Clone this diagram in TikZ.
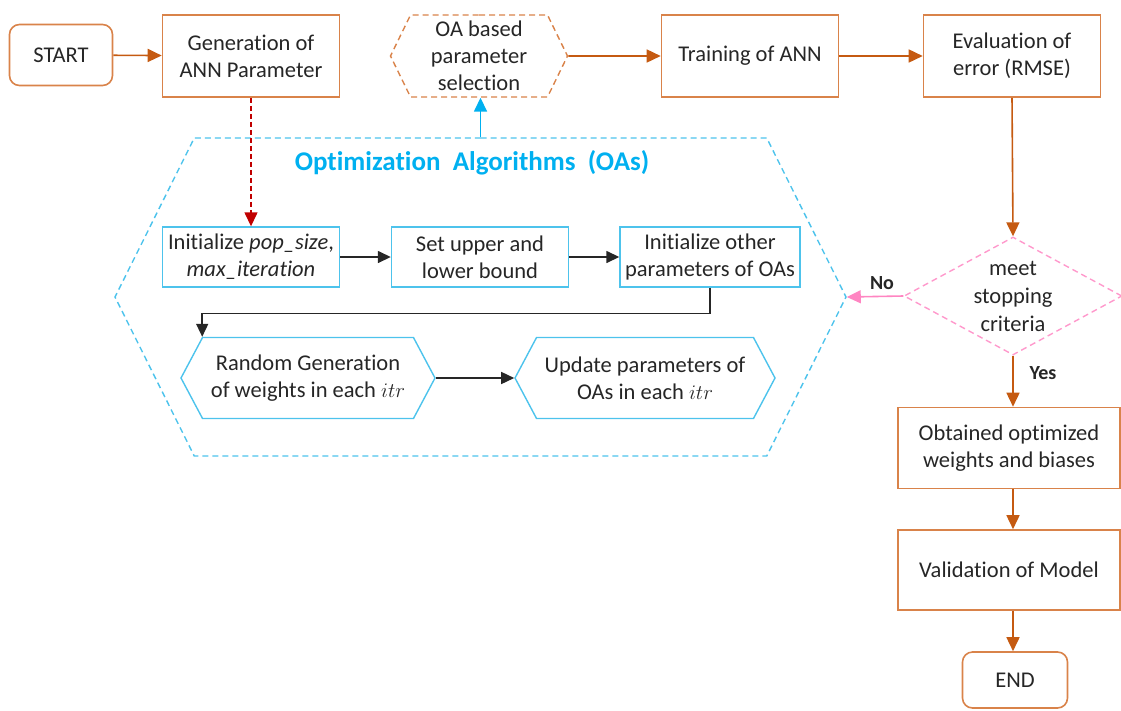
\documentclass[tikz,border=0pt]{standalone}
\usepackage{fontspec}
\setmainfont{Carlito}[Ligatures=NoCommon]
\usetikzlibrary{arrows.meta,shapes.geometric,shapes.symbols}
\definecolor{orgline}{HTML}{D9834A}
\definecolor{orgarrow}{HTML}{C55A11}
\definecolor{oablue}{HTML}{4DC3EC}
\definecolor{oatitle}{HTML}{00B0F0}
\definecolor{redarr}{HTML}{C00000}
\definecolor{pinkln}{HTML}{FF99CC}
\definecolor{pinkarr}{HTML}{FF85C2}
\definecolor{txt}{HTML}{262626}

\begin{document}
\begin{tikzpicture}[x=1pt,y=-1pt,
  >={Triangle[length=14pt,width=13pt]},
  every node/.style={font=\fontsize{22.5}{27}\selectfont,text=txt,align=center},
  terminal/.style={draw=orgline,line width=1.6pt,rounded corners=10pt,minimum width=103pt,minimum height=61pt},
  process/.style={draw=orgline,line width=1.6pt,minimum width=177pt,minimum height=82pt},
  oabox/.style={draw=oablue,line width=1.4pt,minimum width=177pt,minimum height=60pt,inner sep=1pt},
  oahex/.style={draw=oablue,line width=1.4pt,shape=signal,signal to=west and east,signal pointer angle=124,minimum height=81pt},
  flow/.style={->,draw=orgarrow,line width=1.6pt},
  inner/.style={->,draw=black!85,line width=1.5pt,>={Triangle[length=13pt,width=12pt]}},
  answer/.style={font=\fontsize{20}{24}\selectfont\bfseries}]
  \useasboundingbox (0,0) rectangle (1121,710);

  % main chain along the top
  \node[terminal] (start) at (61,55) {START};
  \node[process] (gen) at (251,56) {Generation of\\ ANN Parameter};
  \node[draw=orgline,line width=1.4pt,dash pattern=on 6pt off 4pt,shape=signal,signal to=west and east,
        signal pointer angle=128,minimum width=177pt,minimum height=82pt,inner sep=0pt] (oabased) at (479,56)
        {OA based\\ parameter\\ selection};
  \node[process] (train) at (750,56) {Training of ANN};
  \node[process] (eval) at (1012,56) {Evaluation of\\ error (RMSE)};

  % optimization algorithm block
  \node[draw=oablue,line width=1.4pt,dash pattern=on 6pt off 4pt,shape=signal,signal to=west and east,
        signal pointer angle=127,minimum width=731pt,minimum height=318pt] (oas) at (480.5,297) {};
  \node[font=\fontsize{27}{32}\selectfont\bfseries,text=oatitle] (title) at (472,163)
        {Optimization\ \ Algorithms\ \ (OAs)};
  \node[oabox] (initpop) at (251,257) {Initialize \textit{pop\_size},\\ \textit{max\_iteration}};
  \node[oabox] (bound) at (480,257) {Set upper and\\ lower bound};
  \node[oabox,minimum width=180pt] (initoth) at (710,257) {Initialize other\\ parameters of OAs};
  \node[oahex,minimum width=254pt] (randgen) at (308,378) {Random Generation\\ of weights in each $itr$};
  \node[oahex,minimum width=260pt] (update) at (645,378) {Update parameters of\\ OAs in each $itr$};

  % right column
  \node[draw=pinkln,line width=1.4pt,dash pattern=on 6pt off 4pt,shape=diamond,
        minimum width=218pt,minimum height=118pt,
        label={[font=\fontsize{22.5}{28}\selectfont]center:meet\\ stopping\\ criteria}] (crit) at (1013,296) {};
  \node[process,minimum width=222pt,minimum height=81pt] (obtained) at (1009,448)
        {Obtained optimized\\ weights and biases};
  \node[process,minimum width=222pt,minimum height=80pt] (valid) at (1009,570) {Validation of Model};
  \node[terminal,minimum width=105pt,minimum height=56pt] (end) at (1015,680) {END};

  \draw[flow] (start) -- (gen);
  \draw[flow] (oabased) -- (train);
  \draw[flow] (train) -- (eval);
  \draw[flow] (eval.south) -- (crit.north);
  \draw[flow] (crit.south) -- (crit.south |- obtained.north);
  \draw[flow] (obtained.south -| crit.south) -- (crit.south |- valid.north);
  \draw[flow] (valid.south -| crit.south) -- (crit.south |- end.north);
  \draw[->,draw=pinkarr,line width=1.6pt] (crit.west) -- (oas.east);
  \node[answer] (no) at (882,283) {No};
  \node[answer] (yes) at (1043,373) {Yes};

  \draw[->,draw=redarr,line width=1.4pt,dash pattern=on 5pt off 3pt] (gen.south) -- (initpop.north);
  \draw[->,draw=oatitle,line width=1.6pt] (oas.north) -- (oas.north |- oabased.south);
  \draw[inner] (initpop) -- (bound);
  \draw[inner] (bound) -- (initoth);
  \draw[inner] (initoth.south) -- ++(0,26) -| ([xshift=22pt]randgen.west |- randgen.north);
  \draw[inner] (randgen.east) -- (update.west);
\end{tikzpicture}
\end{document}
